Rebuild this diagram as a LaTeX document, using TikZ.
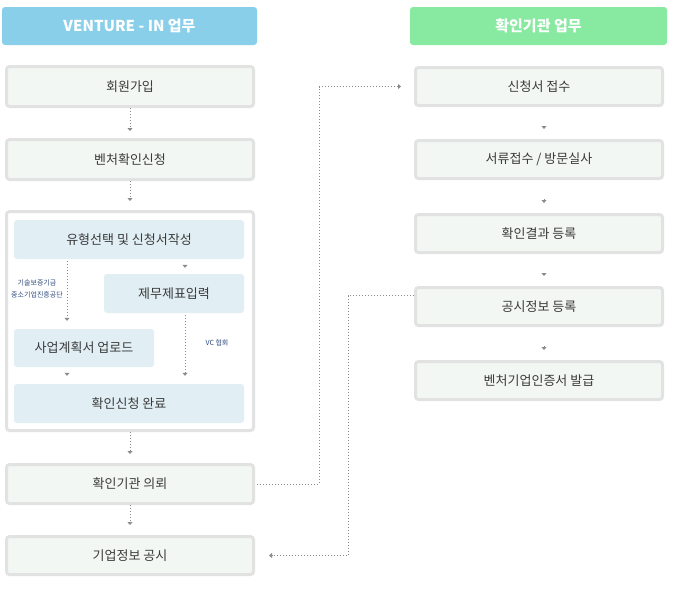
\documentclass[tikz,border=0pt]{standalone}
\usepackage{fontspec}
\setmainfont{Noto Sans CJK KR}
\usetikzlibrary{arrows.meta}
\definecolor{headblue}{HTML}{89CFEA}
\definecolor{headgreen}{HTML}{88E9A0}
\definecolor{boxline}{HTML}{E2E2E2}
\definecolor{boxfill}{HTML}{F2F7F4}
\definecolor{stepfill}{HTML}{E1EFF4}
\definecolor{dotgray}{HTML}{8A8A8A}
\definecolor{labelblue}{HTML}{2E4A7D}
\definecolor{textgray}{HTML}{3A3A3A}

\begin{document}
\begin{tikzpicture}[x=1pt,y=-1pt]
		\tikzstyle{header}=[rectangle,rounded corners=3pt,text=white,font=\fontsize{15}{17}\selectfont\bfseries,minimum width=255pt,minimum height=38pt,inner sep=0pt]
		\tikzstyle{task}=[draw=boxline,line width=3pt,fill=boxfill,rectangle,rounded corners=3pt,text=textgray,font=\fontsize{13}{15}\selectfont,minimum width=247pt,minimum height=40pt,inner sep=0pt]
		\tikzstyle{substep}=[fill=stepfill,rectangle,rounded corners=3pt,text=textgray,font=\fontsize{13}{15}\selectfont,minimum height=39pt,inner sep=0pt]
		\tikzstyle{flow}=[draw=dotgray,line width=1pt,dash pattern=on 1pt off 2pt,-{Triangle[width=5pt,length=3pt]},shorten >=8pt]
		\tikzstyle{tiponly}=[draw=dotgray,line width=1pt,-{Triangle[width=5pt,length=3pt]}]
		\tikzstyle{note}=[text=labelblue,font=\fontsize{7}{12}\selectfont,align=center,inner sep=0pt]
		
		\useasboundingbox (0,0) rectangle (676,590);
		
		% headers
		\node[header,fill=headblue] (ventureHead) at (129.5,26) {VENTURE - IN 업무};
		\node[header,fill=headgreen,minimum width=257pt] (agencyHead) at (538.5,26) {확인기관 업무};
		
		% left column
		\node[task] (join) at (130,86.5) {회원가입};
		\node[task] (apply) at (130,159.5) {벤처확인신청};
		\node[task,fill=white,minimum height=219pt] (form) at (130,321) {};
		\node[substep,minimum width=230pt] (select) at (129,239.5) {유형선택 및 신청서작성};
		\node[substep,minimum width=140pt] (finance) at (174,293.5) {제무제표입력};
		\node[substep,minimum width=140pt,minimum height=38pt] (plan) at (84,348) {사업계획서 업로드};
		\node[substep,minimum width=230pt] (done) at (129,403.5) {확인신청 완료};
		\node[task,minimum height=39pt] (request) at (130,484) {확인기관 의뢰};
		\node[task,minimum height=38pt] (publish) at (130,555.5) {기업정보 공시};
		
		\node[note] (fundLabel) at (37,289) {기술보증기금\\중소기업진흥공단};
		\node[note] (vcLabel) at (217,343) {VC 협회};
		
		% right column
		\node[task,minimum height=38pt] (receive) at (539,86.5) {신청서 접수};
		\node[task,minimum height=38pt] (review) at (539,159.5) {서류접수 / 방문실사};
		\node[task,minimum height=38pt] (result) at (539,233.5) {확인결과 등록};
		\node[task,minimum height=38pt] (notice) at (539,306.5) {공시정보 등록};
		\node[task,minimum height=38pt] (issue) at (539,380.5) {벤처기업인증서 발급};
		
		\draw[flow,shorten >=7pt] (join) -- (apply);
		\draw[flow,shorten >=9pt] (apply) -- (form);
		\draw[flow,shorten >=9pt] (form) -- (request);
		\draw[flow,shorten >=10pt] (request) -- (publish);
		
		\draw[flow,shorten <=2pt] ([xshift=-62pt]select.south) -- ([xshift=-17pt]plan.north);
		\draw[tiponly,shorten <=6pt,shorten >=6pt] ([xshift=56pt]select.south) -- ([xshift=11pt]finance.north);
		\draw[flow,shorten <=2pt] ([xshift=11pt]finance.south) -- ([xshift=56pt]done.north);
		\draw[tiponly,shorten <=6pt,shorten >=8pt] ([xshift=-17pt]plan.south) -- ([xshift=-62pt]done.north);
		
		\foreach \a/\b in {receive/review,review/result,result/notice,notice/issue}
			\draw[tiponly,shorten <=19pt,shorten >=10pt] ([xshift=5pt]\a.south) -- ([xshift=5pt]\b.north);
		
		\draw[flow,shorten <=2pt,shorten >=13pt] (request.east) -| ([xshift=-95pt]receive.west) -- (receive.west);
		\draw[flow,shorten >=14pt] ([yshift=11pt]notice.west) -| ([xshift=93pt]publish.east) -- (publish.east);
		
		\end{tikzpicture}
\end{document}
